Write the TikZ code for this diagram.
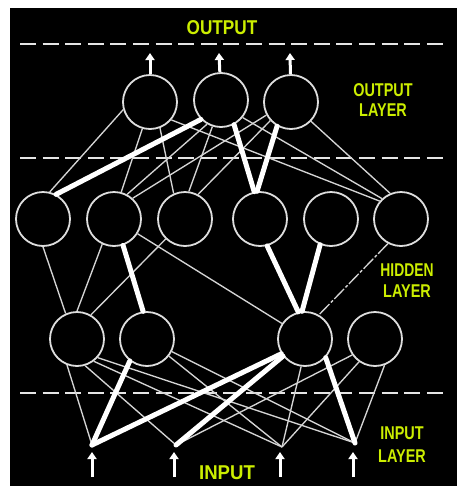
\documentclass[tikz,border=0pt]{standalone}
\usepackage{fontspec}
\setmainfont{Liberation Sans}
\usetikzlibrary{arrows.meta}
\definecolor{lblcol}{RGB}{204,238,0}
\definecolor{wirecol}{RGB}{212,212,212}
\definecolor{ringcol}{RGB}{222,222,222}
\begin{document}
\begin{tikzpicture}[x=1pt,y=-1pt,
  neuron/.style={circle,draw=ringcol,line width=1.8pt,fill=black,minimum size=54pt,inner sep=0pt},
  wire/.style={draw=wirecol,line width=1.35pt},
  heavy/.style={draw=white,line width=5pt,line cap=round},
  brokenwire/.style={draw=wirecol,line width=1.35pt,dash pattern=on 14pt off 2pt on 3pt off 2pt},
  dashline/.style={draw=white!90!black,line width=2pt,dash pattern=on 16pt off 6.6pt},
  sig/.style={draw=white,line width=3pt,-{Triangle[width=9pt,length=7pt]}},
  lbl/.style={text=lblcol,font=\bfseries\fontsize{18.5}{20}\selectfont,inner sep=0pt},
  biglbl/.style={text=lblcol,font=\bfseries\fontsize{20}{20}\selectfont,inner sep=0pt}]
\useasboundingbox (0,0) rectangle (475,488);
\fill[white] (0,0) rectangle (475,488);
\fill[black] (10,8) rectangle (457,486);

% dashed separators
\coordinate (DL1) at (20,44);  \coordinate (DR1) at (443,44);
\coordinate (DL2) at (20,158); \coordinate (DR2) at (443,158);
\coordinate (DL3) at (20,393); \coordinate (DR3) at (443,393);
\draw[dashline] (DL1) -- (DR1);
\draw[dashline] (DL2) -- (DR2);
\draw[dashline] (DL3) -- (DR3);

% neurons
\node[neuron] (O1) at (150,102) {};
\node[neuron] (O2) at (221,100) {};
\node[neuron] (O3) at (291,102) {};
\node[neuron] (H1) at (43,219) {};
\node[neuron] (H2) at (114,219) {};
\node[neuron] (H3) at (185,219) {};
\node[neuron] (H4) at (260,219) {};
\node[neuron] (H5) at (331,219) {};
\node[neuron] (H6) at (401,219) {};
\node[neuron] (A1) at (77,339) {};
\node[neuron] (A2) at (147,339) {};
\node[neuron] (A3) at (305,339) {};
\node[neuron] (A4) at (375,339) {};

% input points
\coordinate (I1) at (92,445);
\coordinate (I2) at (176,445);
\coordinate (I3) at (282,447);
\coordinate (I4) at (355,443);

% output -> hidden (upper)
\draw[wire] (O1.196) -- (H1.76);
\draw[wire] (O1.254) -- (H2.75);
\draw[wire] (O1.291) -- (H3.114);
\draw[wire] (O1.320) -- (H6.140);
\draw[wire] (O2.240) -- (H2.62);
\draw[wire] (O2.252) -- (H3.82);
\draw[wire] (O2.321) -- (H6.133);
\draw[wire] (O3.208) -- (H2.48);
\draw[wire] (O3.222) -- (H3.62);
\draw[wire] (O3.316) -- (H6.113);
\draw[heavy] (O2.224) -- (H1.62);
\draw[heavy] (O2.298) -- (H4.102);
\draw[heavy] (O3.240) -- (H4.96);

% hidden (upper) -> hidden (lower)
\draw[wire] (H1.270) -- (A1.114);
\draw[wire] (H2.245) -- (A1.90);
\draw[wire] (H3.226) -- (A1.60);
\draw[wire] (H2.328) -- (A3.146);
\draw[brokenwire] (H6.242) -- (A3.60);
\draw[heavy] (H2.289) -- (A2.98);
\draw[heavy] (H4.285) -- (A3.104);
\draw[heavy] (H5.247) -- (A3.96);

% hidden (lower) -> inputs
\draw[wire] (A1.249) -- (I1);
\draw[wire] (A1.287) -- (I2);
\draw[wire] (A1.307) -- (I3);
\draw[wire] (A1.318) -- (I4);
\draw[wire] (A2.322) -- (I3);
\draw[wire] (A2.333) -- (I4);
\draw[wire] (A3.262) -- (I3);
\draw[wire] (A4.215) -- (I2);
\draw[wire] (A4.235) -- (I3);
\draw[wire] (A4.290) -- (I4);
\draw[heavy] (A2.232) -- (I1);
\draw[heavy] (A3.212) -- (I1);
\draw[heavy] (A3.218) -- (I2);
\draw[heavy] (A3.318) -- (I4);

% output arrows
\coordinate (OA1) at (150,53);
\coordinate (OA2) at (219,53);
\coordinate (OA3) at (290,53);
\draw[sig] (O1) -- (OA1);
\draw[sig] (O2) -- (OA2);
\draw[sig] (O3) -- (OA3);

% input arrows
\coordinate (IB1) at (92,477);  \coordinate (IT1) at (92,452);
\coordinate (IB2) at (174,477); \coordinate (IT2) at (174,452);
\coordinate (IB3) at (280,477); \coordinate (IT3) at (280,452);
\coordinate (IB4) at (353,477); \coordinate (IT4) at (353,452);
\draw[sig] (IB1) -- (IT1);
\draw[sig] (IB2) -- (IT2);
\draw[sig] (IB3) -- (IT3);
\draw[sig] (IB4) -- (IT4);

% labels
\node[biglbl] (tOut) at (222,28) {\scalebox{0.86}[1]{OUTPUT}};
\node[lbl] (tOL1) at (383,90) {\scalebox{0.78}[1]{OUTPUT}};
\node[lbl] (tOL2) at (383,110) {\scalebox{0.78}[1]{LAYER}};
\node[lbl] (tHL1) at (407,270) {\scalebox{0.75}[1]{HIDDEN}};
\node[lbl] (tHL2) at (407,291) {\scalebox{0.78}[1]{LAYER}};
\node[lbl] (tIL1) at (402,433) {\scalebox{0.78}[1]{INPUT}};
\node[lbl] (tIL2) at (402,456) {\scalebox{0.78}[1]{LAYER}};
\node[biglbl] (tIn) at (227,473) {\scalebox{0.93}[1]{INPUT}};
\end{tikzpicture}
\end{document}
